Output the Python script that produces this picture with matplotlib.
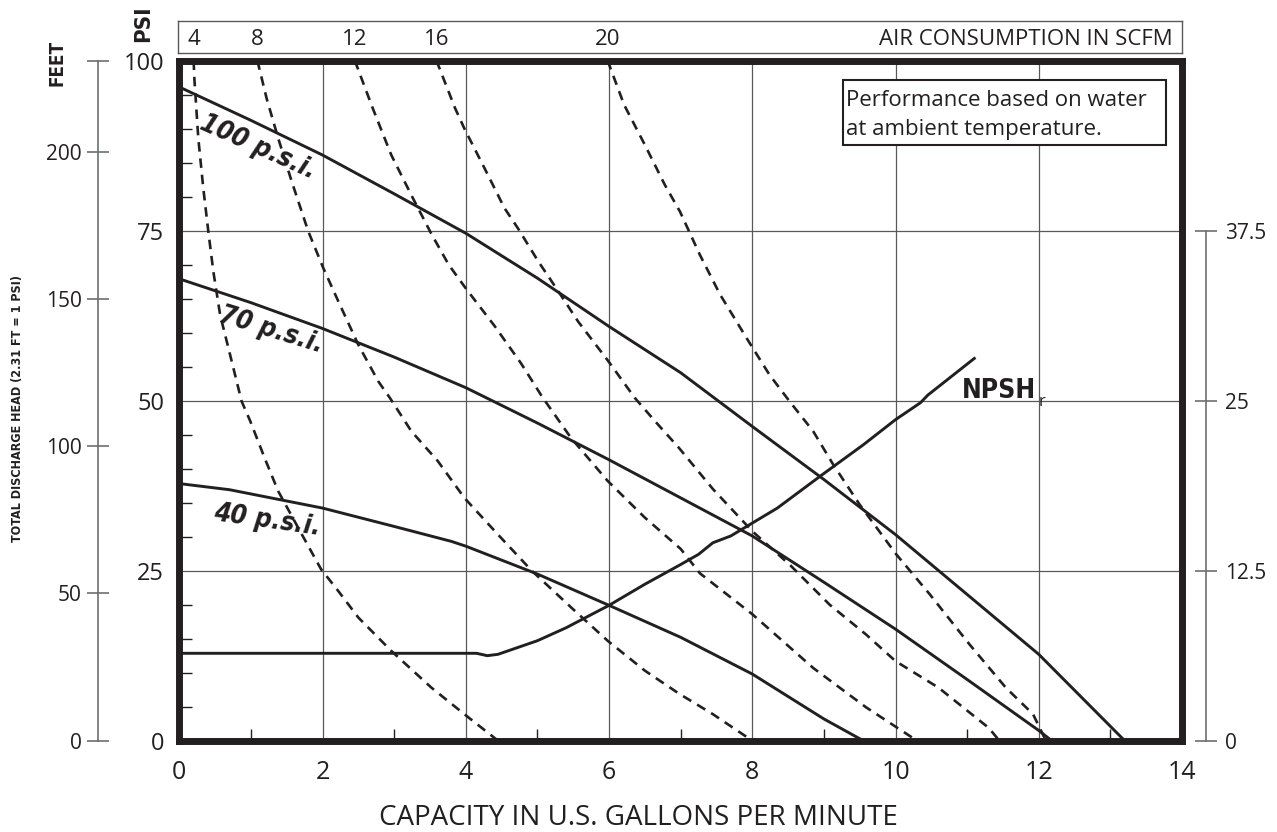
import os
import matplotlib.pyplot as plt
from matplotlib import font_manager, transforms
from matplotlib.font_manager import FontProperties
from matplotlib.patches import Rectangle

plt.rcParams['font.family'] = ['Open Sans', 'DejaVu Sans']

INK = '#231f20'
GRID = '#58595b'


# look for a condensed / narrow face among the installed font files
def narrow_font(names, size, **fallback):
    files = {os.path.basename(f.fname): f.fname for f in font_manager.fontManager.ttflist}
    for n in names:
        if n in files:
            return FontProperties(fname=files[n], size=size)
    return FontProperties(size=size * 0.85, **fallback)


BOLD = ['LiberationSansNarrow-Bold.ttf', 'DejaVuSansCondensed-Bold.ttf', 'RobotoCondensed-Bold.ttf']
BOLD_IT = ['LiberationSansNarrow-BoldItalic.ttf', 'DejaVuSansCondensed-BoldOblique.ttf',
           'RobotoCondensed-BoldItalic.ttf']

# pump head curves, capacity (GPM) vs discharge pressure (PSI)
psi100_gpm = [0, 1, 2, 3, 4, 5, 6, 7, 8, 9, 10, 11, 12, 13.2]
psi100_psi = [96.1, 91.2, 86.1, 80.4, 74.6, 68.0, 60.9, 54.1, 46.2, 38.4, 30.3, 21.5, 12.7, 0]

psi70_gpm = [0, 1, 2, 3, 4, 5, 6, 7, 8, 9, 10, 11, 12, 12.18]
psi70_psi = [67.9, 64.4, 60.6, 56.4, 51.9, 46.7, 41.3, 35.7, 30.1, 23.3, 16.4, 9.0, 1.5, 0]

psi40_gpm = [0, 0.7, 2, 3, 3.8, 4, 5, 6, 7, 8, 9, 9.55]
psi40_psi = [37.8, 36.9, 34.2, 31.5, 29.3, 28.6, 24.5, 19.9, 15.2, 9.8, 3.2, 0]

# NPSHr curve (read on the PSI scale)
npsh_gpm = [0, 4.15, 4.3, 4.45, 5, 5.4, 6, 6.5, 7, 7.25, 7.45, 7.7, 8.35, 8.95, 9.55, 10, 10.35, 10.45, 11.1]
npsh_psi = [12.85, 12.85, 12.5, 12.7, 14.7, 16.6, 19.9, 23.0, 25.9, 27.4, 29.1, 30.1, 34.2, 38.9, 43.5, 47.2, 49.7, 50.8, 56.2]

# air consumption curves (SCFM)
air_scfm = [4, 8, 12, 16, 20]
air4_gpm = [0.2, 0.21, 0.265, 0.335, 0.405, 0.475, 0.57, 0.71, 0.87, 0.99, 1.19, 1.38, 1.66, 1.98, 2.22, 2.5, 2.96, 3.52, 3.98, 4.45]
air4_psi = [100, 97.4, 88.6, 81.2, 74.9, 69.0, 62.6, 56.7, 49.9, 47.0, 41.6, 36.7, 31.3, 25.2, 22.0, 18.1, 13.2, 7.8, 3.9, 0]
air8_gpm = [1.09, 1.22, 1.38, 1.57, 1.8, 2.01, 2.22, 2.5, 2.78, 2.94, 3.24, 3.61, 3.98, 4.45, 4.92, 5.47, 5.98, 6.5, 6.98, 7.45, 8.0]
air8_psi = [100, 94.4, 88.6, 82.2, 74.9, 69.5, 64.6, 58.2, 52.8, 50.4, 45.5, 41.1, 35.7, 30.3, 25.0, 19.6, 14.7, 10.3, 6.9, 3.9, 0]
air12_gpm = [2.45, 2.7, 2.96, 3.24, 3.52, 3.76, 4.0, 4.4, 4.77, 5.07, 5.47, 5.98, 6.5, 7.0, 7.27, 8.0, 8.85, 9.59, 10.3]
air12_psi = [100, 93.0, 86.1, 80.2, 74.5, 70.0, 66.5, 61.0, 55.5, 50.5, 44.5, 38.2, 32.8, 28.2, 24.6, 18.6, 10.7, 4.9, 0]
air16_gpm = [3.59, 3.85, 3.98, 4.26, 4.54, 4.73, 5.01, 5.29, 5.57, 5.99, 6.36, 6.64, 6.98, 7.45, 8.0, 8.53, 9.08, 9.59, 10.0, 10.6, 11.3, 11.45]
air16_psi = [100, 93.0, 90.0, 84.2, 78.3, 75.3, 70.5, 66.1, 61.6, 55.8, 50.4, 47.0, 43.0, 37.0, 30.8, 25.8, 20.0, 15.6, 11.7, 7.8, 1.9, 0]
air20_gpm = [5.98, 6.21, 6.5, 6.78, 6.99, 7.27, 7.55, 7.92, 8.24, 8.52, 8.85, 9.13, 9.5, 10.01, 10.48, 11.03, 11.54, 11.92, 12.1]
air20_psi = [100, 93.5, 87.6, 81.7, 77.8, 71.4, 65.6, 59.2, 53.8, 49.9, 45.5, 40.6, 34.7, 27.4, 21.5, 14.2, 7.8, 3.9, 0]

x_ticks = [0, 2, 4, 6, 8, 10, 12, 14]
y_ticks = [0, 25, 50, 75, 100]
feet_ticks = [0, 50, 100, 150, 200, 231]
feet_labels = ['0', '50', '100', '150', '200', '']
npsh_ticks = [0, 12.5, 25, 37.5]
npsh_labels = ['0', '12.5', '25', '37.5']

W, H = 1277, 832
fig = plt.figure(figsize=(W / 100, H / 100), dpi=100)

L, R, T, B = 179.3, 1182, 60.5, 740.7
ax = fig.add_axes([L / W, (H - B) / H, (R - L) / W, (B - T) / H])
ax.set_xlim(0, 14)
ax.set_ylim(0, 100)

ax.set_xticks(x_ticks)
ax.set_xticks(range(1, 14, 2), minor=True)
ax.set_yticks(y_ticks)
ax.set_yticks([v for v in range(5, 100, 5) if v % 25], minor=True)
ax.tick_params(which='major', length=0, colors=INK)
ax.tick_params(axis='x', which='major', labelsize=18, pad=14)
ax.tick_params(axis='y', which='major', labelsize=17, pad=11)
ax.tick_params(which='minor', direction='in', length=9, width=1, color=INK)
ax.grid(which='major', color=GRID, lw=0.9)
ax.set_axisbelow(True)
for sp in ax.spines.values():
    sp.set_linewidth(5)
    sp.set_color(INK)
    sp.set_capstyle('projecting')

# head curves
for gx, gy in [(psi100_gpm, psi100_psi), (psi70_gpm, psi70_psi), (psi40_gpm, psi40_psi), (npsh_gpm, npsh_psi)]:
    ax.plot(gx, gy, color=INK, lw=2.1, solid_joinstyle='round')

# air curves
air_curves = [(air4_gpm, air4_psi), (air8_gpm, air8_psi), (air12_gpm, air12_psi),
              (air16_gpm, air16_psi), (air20_gpm, air20_psi)]
for gx, gy in air_curves:
    ax.plot(gx, gy, color=INK, lw=1.9, linestyle=(0, (3.6, 2.6)))

psi_font = narrow_font(BOLD_IT, 19, family='Roboto', weight='bold', style='italic')
lab = dict(fontproperties=psi_font, color=INK, ha='center', va='center', rotation_mode='anchor')
ax.text(1.10, 87.2, '100 p.s.i.', rotation=-24, **lab)
ax.text(1.28, 60.4, '70 p.s.i.', rotation=-17, **lab)
ax.text(1.23, 32.4, '40 p.s.i.', rotation=-8, **lab)
npsh_txt = ax.text(10.92, 50.34, 'NPSH', fontproperties=narrow_font(BOLD, 19, family='Roboto', weight='bold'),
                   color=INK, ha='left', va='baseline')
ax.annotate('r', xy=(1, 0), xycoords=npsh_txt, xytext=(2, -1), textcoords='offset points',
            size=12, color=INK, ha='left', va='baseline')

# note box
ax.add_patch(Rectangle((0.6616, 0.8758), 0.984 - 0.6616, 0.9713 - 0.8758, transform=ax.transAxes,
                       fill=True, facecolor='white', edgecolor=INK, lw=1.5, zorder=5))
ax.text(0.665, 0.9335, 'Performance based on water', transform=ax.transAxes, size=16,
        color=INK, va='baseline', zorder=6)
ax.text(0.665, 0.8905, 'at ambient temperature.', transform=ax.transAxes, size=16,
        color=INK, va='baseline', zorder=6)

# air consumption strip on top
top = fig.add_axes([178 / W, (H - 53.3) / H, (1182 - 178) / W, (53.3 - 20.7) / H])
top.set_xticks([])
top.set_yticks([])
for sp in top.spines.values():
    sp.set_linewidth(1)
    sp.set_color(GRID)
trans = transforms.blended_transform_factory(ax.transData, top.transAxes)
for scfm, (gx, gy) in zip(air_scfm, air_curves):
    top.text(gx[0], 0.42, str(scfm), transform=trans, ha='center', va='center', size=16, color=INK)
top.text(0.991, 0.42, 'AIR CONSUMPTION IN SCFM', transform=top.transAxes, ha='right',
         va='center', size=16, color=INK)

# feet scale on the left
ft = fig.add_axes([98 / W, (H - B) / H, 0.0005, (B - T) / H])
ft.set_ylim(0, 231)
ft.patch.set_visible(False)
ft.set_xticks([])
for k in ['top', 'right', 'bottom']:
    ft.spines[k].set_visible(False)
ft.spines['left'].set_bounds(0, 231)
ft.spines['left'].set_color('#6d6e71')
ft.spines['left'].set_linewidth(1.2)
ft.set_yticks(feet_ticks)
ft.set_yticklabels(feet_labels)
ft.tick_params(axis='y', direction='inout', length=16.5, width=1.2, color='#6d6e71',
               labelsize=15, labelcolor=INK, pad=3.5)

# NPSHr scale on the right
rt = fig.add_axes([1205 / W, (H - B) / H, 0.0005, (B - T) / H])
rt.set_ylim(0, 50)
rt.patch.set_visible(False)
rt.set_xticks([])
for k in ['top', 'left', 'bottom']:
    rt.spines[k].set_visible(False)
rt.spines['right'].set_bounds(0, 37.5)
rt.spines['right'].set_color('#6d6e71')
rt.spines['right'].set_linewidth(1.2)
rt.yaxis.tick_right()
rt.set_yticks(npsh_ticks)
rt.set_yticklabels(npsh_labels)
rt.tick_params(axis='y', direction='inout', length=16.5, width=1.2, color='#6d6e71',
               labelsize=15, labelcolor=INK, pad=5.5)

# outer labels
fig.text(0.5, 1 - 825 / H, 'CAPACITY IN U.S. GALLONS PER MINUTE', ha='center', va='baseline',
         size=20, color=INK)
fig.text(57 / W, 1 - 63 / H, 'FEET', rotation=90, ha='center', va='center',
         fontproperties=narrow_font(BOLD, 13.5, family='Roboto', weight='bold'), color=INK)
fig.text(143 / W, 1 - 24 / H, 'PSI', rotation=90, ha='center', va='center',
         fontproperties=narrow_font(BOLD, 16, family='Roboto', weight='bold'), color=INK)
fig.text(17.5 / W, 1 - 408 / H, 'TOTAL DISCHARGE HEAD (2.31 FT = 1 PSI)', rotation=90,
         ha='center', va='center', fontproperties=narrow_font(BOLD, 9, family='Roboto', weight='bold'),
         color=INK)

fig.savefig('out.png', dpi=100)
